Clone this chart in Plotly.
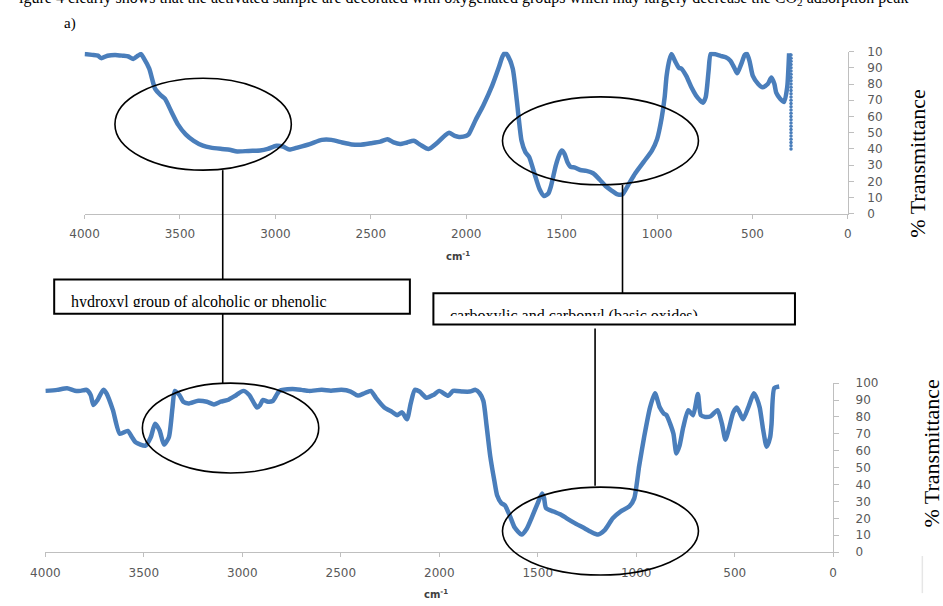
import plotly.graph_objects as go

# ---- FTIR spectrum, sample (a) upper panel ----
top_cm = [4000, 3960, 3930, 3913, 3880, 3840, 3800, 3770, 3745, 3720, 3705, 3690,
          3661, 3630, 3600, 3579, 3545, 3510, 3470, 3428, 3380, 3338, 3280, 3240,
          3200, 3140, 3080, 3040, 2995, 2960, 2927, 2880, 2820, 2757, 2706, 2650,
          2600, 2552, 2500, 2450, 2413, 2380, 2347, 2310, 2275, 2240, 2198, 2150,
          2110, 2090, 2060, 2038, 2000, 1987, 1950, 1910, 1864, 1830, 1810, 1797,
          1780, 1756, 1735, 1710, 1690, 1670, 1643, 1615, 1592, 1570, 1556, 1530,
          1510, 1499, 1485, 1470, 1453, 1430, 1402, 1370, 1335, 1300, 1268, 1240,
          1207, 1181, 1150, 1114, 1070, 1027, 1000, 976, 960, 950, 935, 924, 905,
          885, 873, 847, 820, 796, 775, 760, 745, 730, 719, 700, 667, 640, 616,
          595, 580, 560, 540, 529, 515, 498, 470, 447, 420, 401, 385, 375, 355,
          334, 318, 308]
top_T = [98.6, 98.0, 97.5, 96.0, 97.5, 98.0, 97.5, 97.0, 95.5, 97.5, 98.6, 96.0,
         89.5, 77.0, 73.0, 71.0, 63.0, 55.0, 49.0, 45.0, 42.0, 40.8, 40.0, 39.5,
         38.4, 38.8, 39.0, 40.0, 42.0, 41.5, 39.6, 41.0, 43.0, 45.6, 45.6, 44.0,
         42.8, 42.6, 43.5, 44.5, 46.0, 44.0, 43.0, 44.0, 45.0, 42.5, 40.0, 44.0,
         48.5, 50.0, 48.0, 47.4, 48.0, 49.0, 58.0, 67.0, 79.0, 90.0, 97.0, 99.4,
         97.0, 89.5, 70.0, 45.0, 38.0, 35.0, 25.0, 15.0, 11.0, 12.5, 17.0, 30.0,
         37.0, 39.0, 37.0, 32.0, 29.0, 28.5, 27.0, 26.5, 25.0, 21.0, 17.0, 14.5,
         12.0, 12.0, 18.0, 25.0, 32.0, 39.0, 46.0, 59.0, 72.0, 85.0, 95.0, 98.6, 94.0,
         90.0, 89.6, 85.0, 78.0, 73.0, 70.0, 68.5, 72.0, 88.0, 98.6, 98.5, 97.4, 96.5, 94.4,
         90.0, 86.6, 92.0, 98.0, 98.6, 94.0, 85.0, 80.0, 78.0, 80.0, 84.0, 80.0, 74.5, 71.0,
         69.0, 78.0, 99.0]
# trailing points recorded at the low-wavenumber end
tail_cm = [298] * 30
tail_T = [98, 96, 94, 92, 90, 88, 86, 84, 82, 80, 78, 76, 74, 72, 70,
          68, 66, 64, 62, 60, 58, 56, 54, 52, 50, 48, 46, 44, 42, 40]

# ---- FTIR spectrum, lower panel ----
bot_cm = [4000, 3940, 3890, 3850, 3821, 3791, 3770, 3756, 3735, 3706, 3690, 3657,
          3622, 3582, 3560, 3542, 3492, 3465, 3443, 3420, 3398, 3373, 3355, 3343,
          3320, 3300, 3274, 3224, 3180, 3144, 3110, 3075, 3030, 2995, 2965, 2940,
          2925, 2910, 2896, 2870, 2846, 2811, 2746, 2700, 2662, 2597, 2550, 2497,
          2450, 2413, 2380, 2348, 2320, 2279, 2240, 2214, 2189, 2164, 2145, 2124,
          2100, 2065, 2030, 2000, 1955, 1930, 1881, 1845, 1816, 1795, 1776, 1760,
          1741, 1720, 1706, 1685, 1667, 1640, 1617, 1582, 1555, 1532, 1500, 1478,
          1468, 1458, 1420, 1380, 1353, 1310, 1269, 1230, 1194, 1160, 1119, 1080,
          1035, 1010, 985, 960, 930, 905, 880, 860, 846, 828, 811, 796, 780, 761,
          736, 711, 687, 672, 650, 622, 587, 565, 547, 527, 507, 488, 458, 430,
          403, 388, 373, 355, 338, 320, 313, 299, 274]
bot_T = [95.4, 96.0, 97.0, 95.5, 95.4, 96.0, 93.0, 87.0, 90.0, 96.0, 94.0, 84.0,
         70.0, 71.7, 68.0, 65.0, 63.0, 68.0, 76.0, 72.0, 63.6, 68.0, 85.0, 95.4,
         93.0, 89.0, 88.0, 89.6, 89.0, 87.4, 89.0, 90.0, 93.0, 95.4, 93.0, 88.0,
         85.5, 87.0, 90.0, 89.0, 89.4, 95.4, 96.5, 96.0, 95.4, 96.0, 95.5, 96.0,
         95.0, 92.6, 94.0, 95.4, 91.0, 85.5, 83.0, 81.0, 82.7, 78.6, 88.0, 96.0,
         95.0, 91.3, 93.0, 95.4, 92.5, 95.4, 95.0, 95.0, 96.0, 94.0, 89.4, 75.0,
         56.6, 42.0, 33.5, 29.0, 27.7, 21.0, 14.5, 10.4, 14.0, 20.0, 29.0, 34.7,
         32.0, 26.0, 24.0, 22.0, 20.0, 17.0, 14.5, 12.0, 10.4, 13.0, 20.0, 24.0,
         27.0, 31.8, 51.0, 68.0, 85.5, 94.0, 85.5, 82.0, 81.0, 76.0, 70.0, 58.4, 63.0, 74.0,
         84.0, 81.0, 93.6, 81.0, 80.0, 80.4, 84.0, 76.0, 66.5, 74.0, 82.7, 85.5, 78.6, 86.0,
         94.0, 91.0, 85.5, 72.0, 62.4, 68.0, 75.7, 97.0, 98.0]

x_ticks = [4000, 3500, 3000, 2500, 2000, 1500, 1000, 500, 0]
y_ticks = [0, 10, 20, 30, 40, 50, 60, 70, 80, 90, 100]
top_y_labels = ["0", "10", "20", "30", "40", "50", "60", "70", "80", "90", "10"]
bot_y_labels = ["0", "10", "20", "30", "40", "50", "60", "70", "80", "90", "100"]

W, H = 943, 606
BLUE = "#4A7EBB"
AXIS = "#BFBFBF"
TICKFONT = dict(family="DejaVu Sans", size=12, color="#595959")
SERIF = "Liberation Serif"


def px(x):
    return x / W


def py(y):
    return 1 - y / H


fig = go.Figure()
fig.add_trace(go.Scatter(x=top_cm, y=top_T, mode="lines",
                         line=dict(color=BLUE, width=4.5, shape="spline", smoothing=0.6),
                         xaxis="x", yaxis="y", showlegend=False, hoverinfo="skip"))
fig.add_trace(go.Scatter(x=tail_cm, y=tail_T, mode="markers",
                         marker=dict(color=BLUE, size=3.5),
                         xaxis="x", yaxis="y", showlegend=False, hoverinfo="skip"))
fig.add_trace(go.Scatter(x=bot_cm, y=bot_T, mode="lines",
                         line=dict(color=BLUE, width=4.5, shape="spline", smoothing=0.6),
                         xaxis="x2", yaxis="y2", showlegend=False, hoverinfo="skip"))

xcommon = dict(range=[4000, 0], tickvals=x_ticks, showline=True, linecolor=AXIS,
               linewidth=1, ticks="outside", ticklen=4, tickcolor=AXIS,
               showgrid=False, zeroline=False, tickfont=TICKFONT, ticklabelstandoff=5)
ycommon = dict(range=[0, 100], tickvals=y_ticks, side="right", showline=True,
               linecolor=AXIS, linewidth=1, ticks="outside", ticklen=5, tickcolor=AXIS,
               showgrid=False, zeroline=False, tickfont=TICKFONT)

fig.update_layout(
    width=W, height=H,
    margin=dict(l=0, r=0, t=0, b=0),
    paper_bgcolor="white", plot_bgcolor="white",
    xaxis=dict(domain=[px(71), px(850)], anchor="y", **xcommon),
    yaxis=dict(domain=[py(211.7), py(45.7)], anchor="x", ticktext=top_y_labels,
               ticklabelstandoff=11, **ycommon),
    xaxis2=dict(domain=[px(31), px(835)], anchor="y2", **xcommon),
    yaxis2=dict(domain=[py(558), py(385)], anchor="x2", ticktext=bot_y_labels,
                ticklabelstandoff=14, **ycommon),
)

shapes = []
# ellipses marking the band regions
for cx, cy, rx, ry in [(192, 120, 90, 47), (597.5, 137, 100, 45),
                       (220, 431, 90, 46), (597.5, 536.5, 100, 45)]:
    shapes.append(dict(type="circle", xref="paper", yref="paper",
                       x0=px(cx - rx), x1=px(cx + rx), y0=py(cy + ry), y1=py(cy - ry),
                       line=dict(color="black", width=1.6), layer="above"))
# connector lines
for x, y0, y1 in [(212, 167, 279), (212, 314, 385), (620, 182, 293), (592, 329, 490)]:
    shapes.append(dict(type="line", xref="paper", yref="paper",
                       x0=px(x), x1=px(x), y0=py(y0), y1=py(y1),
                       line=dict(color="black", width=1.6), layer="above"))
# label boxes
for x0, x1, y0, y1 in [(40, 403, 279, 314), (427, 796, 293, 325)]:
    shapes.append(dict(type="rect", xref="paper", yref="paper",
                       x0=px(x0), x1=px(x1), y0=py(y1), y1=py(y0),
                       line=dict(color="black", width=2), fillcolor="white", layer="above"))
# faint mark in the lower right corner
shapes.append(dict(type="line", xref="paper", yref="paper",
                   x0=px(926), x1=px(926), y0=py(562), y1=py(600),
                   line=dict(color="#E6E6E6", width=1.5), layer="above"))
fig.update_layout(shapes=shapes)

annotations = [
    # running caption text above the figure (only its lower edge falls on the page)
    dict(x=px(2), y=py(3), xref="paper", yref="paper", xanchor="left", yanchor="bottom",
         text="igure 4 clearly shows that the activated sample are decorated with oxygenated groups which "
              "may largely decrease the CO<sub>2</sub> adsorption peak",
         font=dict(family=SERIF, size=16, color="black"), showarrow=False),
    dict(x=px(48), y=py(17), xref="paper", yref="paper", xanchor="left", yanchor="middle",
         text="a)", font=dict(family=SERIF, size=15, color="black"), showarrow=False),
    # wavenumber unit labels
    dict(x=px(452), y=py(255), xref="paper", yref="paper", xanchor="center", yanchor="middle",
         text="<b>cm<sup>-1</sup></b>", font=dict(family="DejaVu Sans", size=10, color="#404040"),
         showarrow=False),
    dict(x=px(430), y=py(601), xref="paper", yref="paper", xanchor="center", yanchor="middle",
         text="<b>cm<sup>-1</sup></b>", font=dict(family="DejaVu Sans", size=10, color="#404040"),
         showarrow=False),
    # y-axis titles
    dict(x=px(921), y=py(160), xref="paper", yref="paper", xanchor="center", yanchor="middle",
         text="% Transmittance", textangle=-90,
         font=dict(family=SERIF, size=22, color="black"), showarrow=False),
    dict(x=px(935), y=py(457), xref="paper", yref="paper", xanchor="center", yanchor="middle",
         text="% Transmittance", textangle=-90,
         font=dict(family=SERIF, size=22, color="black"), showarrow=False),
    # band labels, clipped inside their boxes
    dict(x=px(56), y=py(292), xref="paper", yref="paper", xanchor="left", yanchor="top",
         text="hydroxyl group of alcoholic or phenolic", width=340, height=14,
         align="left", valign="top", borderpad=0,
         font=dict(family=SERIF, size=16, color="black"), showarrow=False),
    dict(x=px(443), y=py(306), xref="paper", yref="paper", xanchor="left", yanchor="top",
         text="carboxylic and carbonyl (basic oxides)", width=340, height=9,
         align="left", valign="top", borderpad=0,
         font=dict(family=SERIF, size=16, color="black"), showarrow=False),
]
fig.update_layout(annotations=annotations)

fig.write_html("out.html")
